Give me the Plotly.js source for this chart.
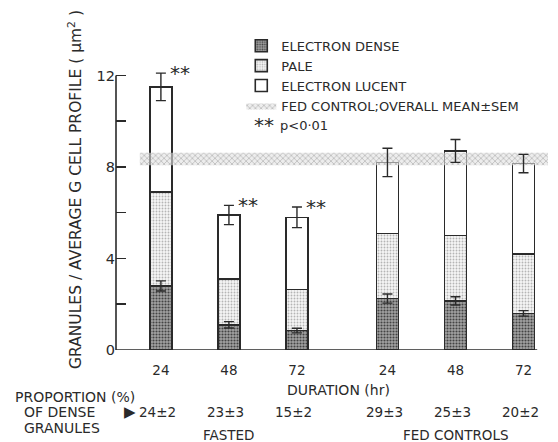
<!DOCTYPE html>
<html><head><meta charset="utf-8">
<script src="https://cdn.plot.ly/plotly-3.0.1.min.js"></script>
<style>body{margin:0;background:#fff}#c{width:558px;height:442px}</style>
</head><body><div id="c"></div>
<script>
// ---- data ----
const hours = [24, 48, 72, 24, 48, 72];
const group = ['FASTED', 'FASTED', 'FASTED', 'FED CONTROLS', 'FED CONTROLS', 'FED CONTROLS'];
const dense = [2.8, 1.1, 0.85, 2.25, 2.15, 1.6];
const pale = [4.1, 2.0, 1.8, 2.85, 2.85, 2.6];
const lucent = [4.6, 2.8, 3.15, 3.1, 3.7, 3.95];
const totalErr = [0.6, 0.42, 0.45, 0.62, 0.5, 0.4];
const denseErr = [0.22, 0.14, 0.1, 0.2, 0.18, 0.12];
const propMean = [24, 23, 15, 29, 25, 20];
const propSem = [2, 3, 2, 3, 3, 2];
const signif = [true, true, true, false, false, false];
const fedMean = 8.35, fedSem = 0.27;

// ---- layout helpers ----
const groupGap = 0.33;
const xpos = hours.map((h, i) => i + (group[i] === 'FED CONTROLS' ? groupGap : 0));
const totals = dense.map((d, i) => d + pale[i] + lucent[i]);
const ink = '#2a2a2a';
const F = 'DejaVu Sans';
const barW = 0.32;

const barLine = {color: ink, width: 1.6};
const traces = [
  {type: 'bar', name: 'ELECTRON DENSE', x: xpos, y: dense, width: barW,
   marker: {color: '#8c8c8c', line: barLine,
            pattern: {shape: '.', bgcolor: '#a2a2a2', fgcolor: '#444444', size: 3, solidity: 0.4}}},
  {type: 'bar', name: 'PALE', x: xpos, y: pale, width: barW,
   marker: {color: '#eeeeee', line: barLine,
            pattern: {shape: '.', bgcolor: '#f6f6f6', fgcolor: '#b5b5b5', size: 3, solidity: 0.3}}},
  {type: 'bar', name: 'ELECTRON LUCENT', x: xpos, y: lucent, width: barW,
   marker: {color: '#ffffff', line: barLine}},
  {type: 'scatter', name: 'FED CONTROL;OVERALL MEAN\u00b1SEM', mode: 'lines',
   x: [-0.31, 5.69, 5.69, -0.31], y: [fedMean - fedSem, fedMean - fedSem, fedMean + fedSem, fedMean + fedSem],
   fill: 'toself', line: {width: 0, color: 'rgba(0,0,0,0)'},
   fillcolor: 'rgba(200,200,200,0.55)',
   fillpattern: {shape: 'x', bgcolor: 'rgba(225,225,225,0.6)', fgcolor: 'rgba(150,150,150,0.7)', size: 4, solidity: 0.3},
   hoverinfo: 'skip'},
  {type: 'scatter', mode: 'markers', x: xpos, y: totals, showlegend: false,
   marker: {size: 1, opacity: 0},
   error_y: {type: 'data', array: totalErr, visible: true, color: ink, thickness: 1.4, width: 5}},
  {type: 'scatter', mode: 'markers', x: xpos, y: dense, showlegend: false,
   marker: {size: 1, opacity: 0},
   error_y: {type: 'data', array: denseErr, visible: true, color: ink, thickness: 1.4, width: 5}}
];

const ann = [];
const txt = (o) => Object.assign({showarrow: false, font: {family: F, size: 13, color: ink}}, o);
xpos.forEach((x, i) => {
  if (signif[i]) ann.push(txt({x: x + 0.1, y: totals[i] + totalErr[i], xref: 'x', yref: 'y', text: '**',
    xanchor: 'left', yanchor: 'middle', font: {family: F, size: 20, color: ink}}));
  ann.push(txt({x: x - 0.05, y: -0.205, xref: 'x', yref: 'paper', text: propMean[i] + '\u00b1' + propSem[i], xanchor: 'center', yanchor: 'middle', font: {family: F, size: 13.5, color: ink}}));
});
['FASTED', 'FED CONTROLS'].forEach(g => {
  const idx = xpos.filter((x, i) => group[i] === g);
  ann.push(txt({x: idx[1], y: -0.281, xref: 'x', yref: 'paper', text: g, xanchor: 'center', yanchor: 'middle', font: {family: F, size: 13.5, color: ink}}));
});
const lab = {family: F, size: 14, color: ink};
ann.push(txt({x: -0.239, y: -0.156, xref: 'paper', yref: 'paper', text: 'PROPORTION (%)', xanchor: 'left', yanchor: 'middle', font: lab}));
ann.push(txt({x: -0.218, y: -0.205, xref: 'paper', yref: 'paper', text: 'OF DENSE', xanchor: 'left', yanchor: 'middle', font: lab}));
ann.push(txt({x: -0.218, y: -0.258, xref: 'paper', yref: 'paper', text: 'GRANULES', xanchor: 'left', yanchor: 'middle', font: lab}));
ann.push(txt({x: 0.032, y: -0.206, xref: 'paper', yref: 'paper', text: '\u25b6', xanchor: 'center', yanchor: 'middle', font: {family: F, size: 15, color: ink}}));
ann.push(txt({x: 0.514, y: -0.133, xref: 'paper', yref: 'paper', text: 'DURATION (hr)', xanchor: 'center', yanchor: 'middle', font: lab}));
ann.push(txt({x: -0.095, y: 0.533, xref: 'paper', yref: 'paper', text: 'GRANULES / AVERAGE G CELL PROFILE ( \u03bcm<sup>2</sup> )',
  textangle: -90, xanchor: 'center', yanchor: 'middle', font: {family: F, size: 15.5, color: ink}}));
ann.push(txt({x: 0.314, y: 0.745, xref: 'paper', yref: 'paper', text: '**',
  xanchor: 'left', yanchor: 'middle', font: {family: F, size: 20, color: ink}}));
ann.push(txt({x: 0.374, y: 0.745, xref: 'paper', yref: 'paper', text: 'p&lt;0\u00b701',
  xanchor: 'left', yanchor: 'middle', font: {family: F, size: 13, color: ink}}));

const layout = {
  width: 558, height: 442,
  margin: {l: 116, r: 10, t: 48, b: 92},
  paper_bgcolor: '#fff', plot_bgcolor: '#fff',
  barmode: 'stack',
  font: {family: F, size: 13, color: ink},
  showlegend: true,
  legend: {x: 0.29, y: 1.057, xanchor: 'left', yanchor: 'top', bgcolor: 'rgba(0,0,0,0)', traceorder: 'normal',
           font: {family: F, size: 13, color: ink}, tracegroupgap: 0, itemwidth: 30},
  xaxis: {range: [-0.66, 5.69], showgrid: false, zeroline: false, showline: false,
          tickmode: 'array', tickvals: xpos, ticktext: hours.map(String), ticks: '', ticklabelstandoff: 10,
          tickfont: {family: F, size: 13.5, color: ink}, fixedrange: true},
  yaxis: {range: [0, 13.2], showgrid: false, zeroline: false, showline: false,
          tick0: 0, dtick: 4,
          ticks: 'inside', ticklen: 10, tickwidth: 1.5, tickcolor: ink,
          minor: {dtick: 2, ticks: 'inside', ticklen: 10, tickwidth: 1.5, tickcolor: ink, showgrid: false},
          tickfont: {family: F, size: 14.5, color: ink}, fixedrange: true},
  shapes: [
    {type: 'line', xref: 'paper', yref: 'y', x0: 0, x1: 0, y0: 0, y1: 12, line: {color: ink, width: 1.6}},
    {type: 'line', xref: 'paper', yref: 'y', x0: 0, x1: 0.975, y0: 0, y1: 0, line: {color: ink, width: 1.6}}
  ],
  annotations: ann
};
Plotly.newPlot('c', traces, layout, {displayModeBar: false, staticPlot: true});
</script></body></html>
